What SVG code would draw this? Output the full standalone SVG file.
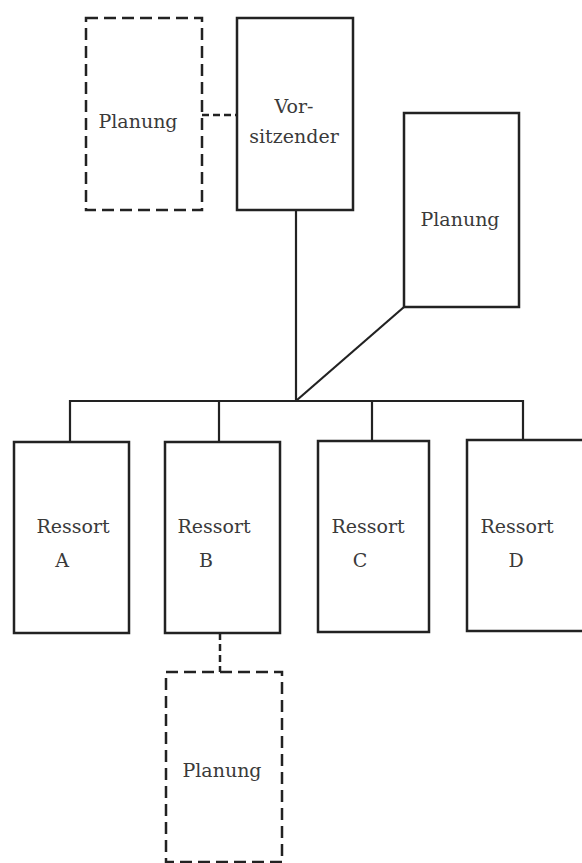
<svg xmlns="http://www.w3.org/2000/svg" width="582" height="863" viewBox="0 0 582 863">
<style>
.box{fill:none;stroke:#222;stroke-width:2.5}
.dash{fill:none;stroke:#222;stroke-width:2.5;stroke-dasharray:12 6}
.ln{fill:none;stroke:#222;stroke-width:2.2}
.dl{fill:none;stroke:#222;stroke-width:2.5;stroke-dasharray:7 4}
text{font-family:"DejaVu Serif","Liberation Serif",serif;font-size:19px;fill:#3a3a3a;text-anchor:middle}
</style>
<rect width="582" height="863" fill="#fff"/>
<g id="connectors">
<path class="dl" d="M202 115H237"/>
<path class="ln" d="M296 210V400"/>
<path class="ln" d="M404 307L297 400"/>
<path class="ln" d="M70 442V401H523V441"/>
<path class="ln" d="M219 401V442"/>
<path class="ln" d="M372 401V441"/>
<path class="dl" d="M220 633V672"/>
</g>
<g id="planung-stab">
<rect class="dash" x="86" y="18" width="116" height="192"/>
<text x="138" y="128">Planung</text>
</g>
<g id="vorsitzender">
<rect class="box" x="237" y="18" width="116" height="192"/>
<text x="294" y="113">Vor-</text>
<text x="294" y="143">sitzender</text>
</g>
<g id="planung-linie">
<rect class="box" x="404" y="113" width="115" height="194"/>
<text x="460" y="226">Planung</text>
</g>
<g id="ressort-a">
<rect class="box" x="14" y="442" width="115" height="191"/>
<text x="73" y="533">Ressort</text>
<text x="62" y="567">A</text>
</g>
<g id="ressort-b">
<rect class="box" x="165" y="442" width="115" height="191"/>
<text x="214" y="533">Ressort</text>
<text x="206" y="567">B</text>
</g>
<g id="ressort-c">
<rect class="box" x="318" y="441" width="111" height="191"/>
<text x="368" y="533">Ressort</text>
<text x="360" y="567">C</text>
</g>
<g id="ressort-d">
<rect class="box" x="467" y="440" width="120" height="191"/>
<text x="517" y="533">Ressort</text>
<text x="516" y="567">D</text>
</g>
<g id="planung-ressort-b">
<rect class="dash" x="166" y="672" width="116" height="190"/>
<text x="222" y="777">Planung</text>
</g>
</svg>
